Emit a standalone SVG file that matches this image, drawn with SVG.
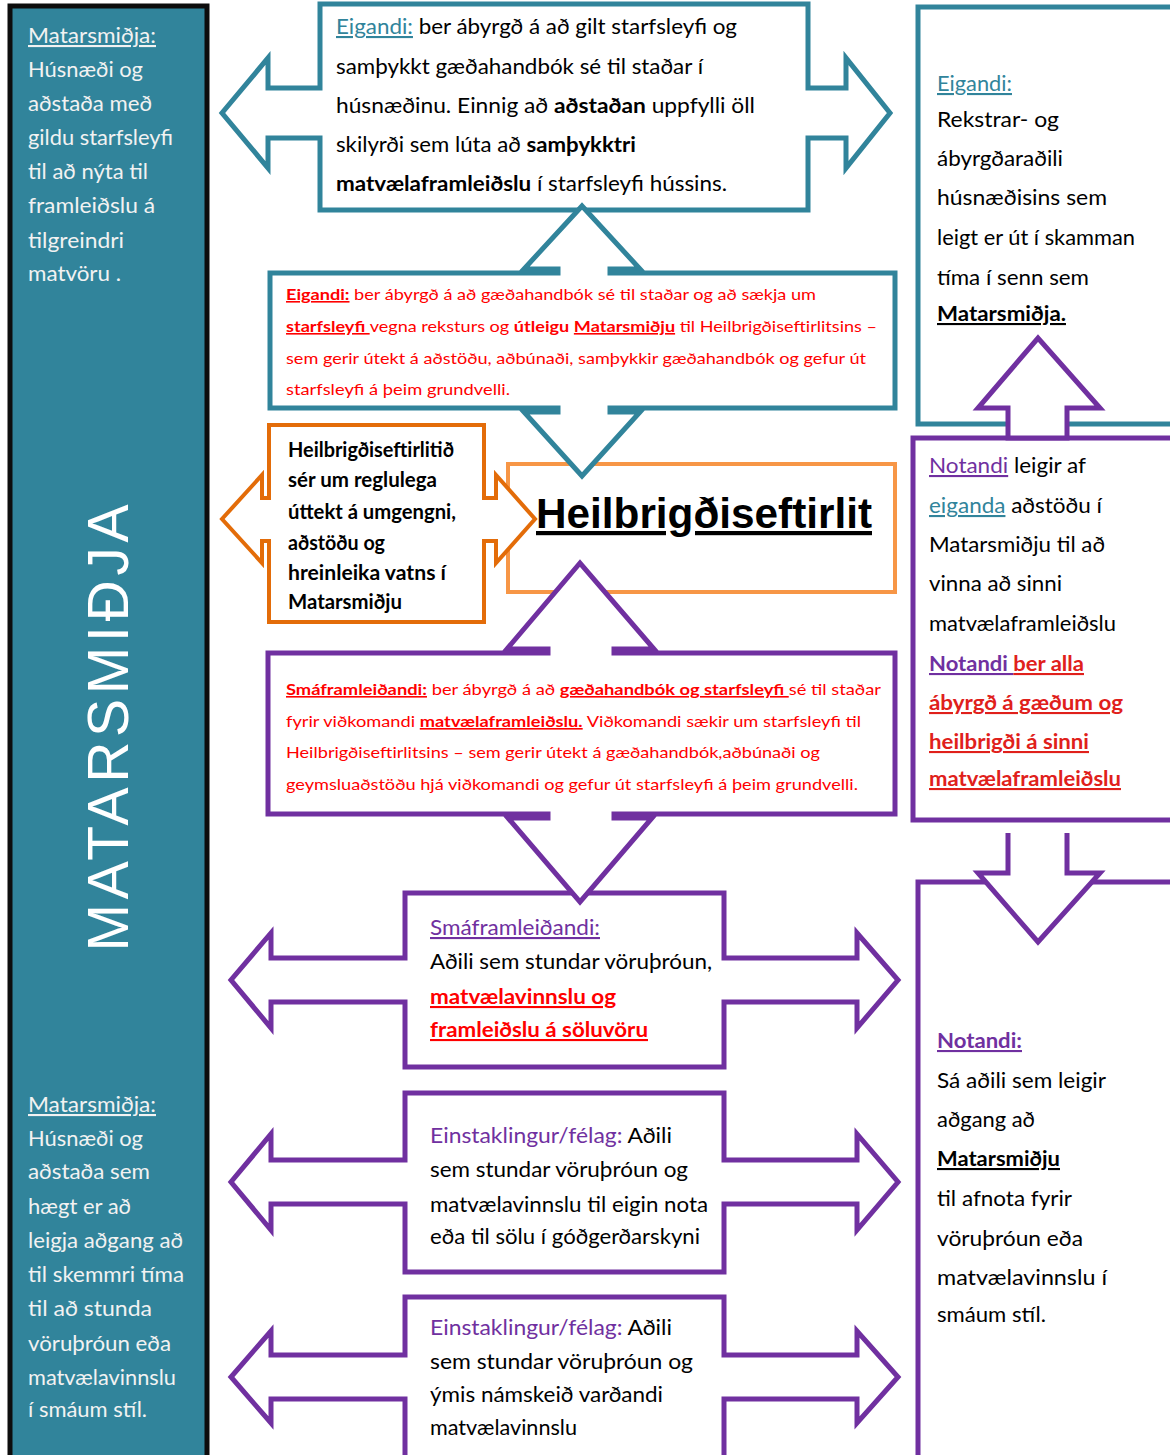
<svg xmlns="http://www.w3.org/2000/svg" width="1170" height="1455" viewBox="0 0 1170 1455">
<style>
.t{font-family:Lato,'Liberation Sans',sans-serif;font-size:21px;fill:#000}
.w{fill:#F2F2F2}
.r{font-size:16px;fill:#FF0000}
.ob{font-size:20px;font-weight:bold}
.b{font-weight:bold}
.u{text-decoration:underline}
.teal{fill:#31849B}
.pur{fill:#7030A0}
.red{fill:#FF0000}
.dred{fill:#E0201B}
.tealS{fill:#fff;stroke:#31849B;stroke-width:5}
.purS{fill:#fff;stroke:#7030A0;stroke-width:5}
.big{font-family:'Liberation Sans',Arial,sans-serif;font-size:42px;font-weight:bold;fill:#000}
.vert{font-family:'Liberation Sans',Arial,sans-serif;font-size:57px;fill:#fff}
</style>
<rect width="1170" height="1455" fill="#fff"/>

<g id="matarsmidja-panel">
<rect x="10" y="6" width="197" height="1470" fill="#31849B" stroke="#0d0d0d" stroke-width="5"/>
<g class="t w">
<text x="28" y="43" textLength="128" lengthAdjust="spacingAndGlyphs" class="u">Matarsmiðja:</text>
<text x="28" y="77" textLength="115" lengthAdjust="spacingAndGlyphs">Húsnæði og</text>
<text x="28" y="111" textLength="124" lengthAdjust="spacingAndGlyphs">aðstaða með</text>
<text x="28" y="145" textLength="145" lengthAdjust="spacingAndGlyphs">gildu starfsleyfi</text>
<text x="28" y="179" textLength="120" lengthAdjust="spacingAndGlyphs">til að nýta til</text>
<text x="28" y="213" textLength="127" lengthAdjust="spacingAndGlyphs">framleiðslu á</text>
<text x="28" y="248" textLength="96" lengthAdjust="spacingAndGlyphs">tilgreindri</text>
<text x="28" y="281" textLength="93" lengthAdjust="spacingAndGlyphs">matvöru .</text>
<text x="28" y="1112" textLength="128" lengthAdjust="spacingAndGlyphs" class="u">Matarsmiðja:</text>
<text x="28" y="1146" textLength="115" lengthAdjust="spacingAndGlyphs">Húsnæði og</text>
<text x="28" y="1179" textLength="122" lengthAdjust="spacingAndGlyphs">aðstaða sem</text>
<text x="28" y="1214" textLength="103" lengthAdjust="spacingAndGlyphs">hægt er að</text>
<text x="28" y="1248" textLength="155" lengthAdjust="spacingAndGlyphs">leigja aðgang að</text>
<text x="28" y="1282" textLength="156" lengthAdjust="spacingAndGlyphs">til skemmri tíma</text>
<text x="28" y="1316" textLength="124" lengthAdjust="spacingAndGlyphs">til að stunda</text>
<text x="28" y="1351" textLength="143" lengthAdjust="spacingAndGlyphs">vöruþróun eða</text>
<text x="28" y="1385" textLength="148" lengthAdjust="spacingAndGlyphs">matvælavinnslu</text>
<text x="28" y="1417" textLength="119" lengthAdjust="spacingAndGlyphs">í smáum stíl.</text>
</g>
<text class="vert" transform="translate(128,728) rotate(-90)" text-anchor="middle" textLength="447" lengthAdjust="spacing">MATARSMIÐJA</text>
</g>

<g id="eigandi-top">
<path class="tealS" d="M320,4 H808 V88 H846 V58 L890,113 L846,168 V138 H808 V210 H320 V138 H268 V168 L222,113 L268,58 V88 H320 Z"/>
<g class="t">
<text x="336" y="34" textLength="401" lengthAdjust="spacingAndGlyphs"><tspan class="teal u">Eigandi:</tspan>  ber ábyrgð á að gilt starfsleyfi og</text>
<text x="336" y="74" textLength="367" lengthAdjust="spacingAndGlyphs">samþykkt gæðahandbók sé til staðar í</text>
<text x="336" y="113" textLength="419" lengthAdjust="spacingAndGlyphs">húsnæðinu. Einnig að <tspan class="b">aðstaðan</tspan> uppfylli öll</text>
<text x="336" y="152" textLength="300" lengthAdjust="spacingAndGlyphs">skilyrði sem lúta að <tspan class="b">samþykktri</tspan></text>
<text x="336" y="191" textLength="391" lengthAdjust="spacingAndGlyphs"><tspan class="b">matvælaframleiðslu</tspan> í starfsleyfi hússins.</text>
</g>
</g>

<g id="eigandi-right">
<rect class="tealS" x="918" y="7" width="262" height="417"/>
<g class="t">
<text x="937" y="91" textLength="75" lengthAdjust="spacingAndGlyphs" class="teal u">Eigandi:</text>
<text x="937" y="127" textLength="122" lengthAdjust="spacingAndGlyphs">Rekstrar- og</text>
<text x="937" y="166" textLength="126" lengthAdjust="spacingAndGlyphs">ábyrgðaraðili</text>
<text x="937" y="205" textLength="170" lengthAdjust="spacingAndGlyphs">húsnæðisins sem</text>
<text x="937" y="245" textLength="198" lengthAdjust="spacingAndGlyphs">leigt er út í skamman</text>
<text x="937" y="285" textLength="152" lengthAdjust="spacingAndGlyphs">tíma í senn sem</text>
<text x="937" y="321" textLength="129" lengthAdjust="spacingAndGlyphs" class="b u">Matarsmiðja.</text>
</g>
</g>

<g id="notandi-box">
<rect class="purS" x="913" y="438" width="267" height="382"/>
<g class="t">
<text x="929" y="473" textLength="157" lengthAdjust="spacingAndGlyphs"><tspan class="pur u">Notandi</tspan> leigir af</text>
<text x="929" y="513" textLength="173" lengthAdjust="spacingAndGlyphs"><tspan class="teal u">eiganda</tspan> aðstöðu í</text>
<text x="929" y="552" textLength="176" lengthAdjust="spacingAndGlyphs">Matarsmiðju til að</text>
<text x="929" y="591" textLength="133" lengthAdjust="spacingAndGlyphs">vinna að sinni</text>
<text x="929" y="631" textLength="187" lengthAdjust="spacingAndGlyphs">matvælaframleiðslu</text>
<text x="929" y="671" textLength="155" lengthAdjust="spacingAndGlyphs" class="b"><tspan class="pur u">Notandi </tspan><tspan class="dred u">ber alla</tspan></text>
<text x="929" y="710" textLength="194" lengthAdjust="spacingAndGlyphs" class="b dred u">ábyrgð á gæðum og</text>
<text x="929" y="749" textLength="160" lengthAdjust="spacingAndGlyphs" class="b dred u">heilbrigði á sinni</text>
<text x="929" y="786" textLength="192" lengthAdjust="spacingAndGlyphs" class="b dred u">matvælaframleiðslu</text>
</g>
</g>

<g id="notandi-bottom">
<rect class="purS" x="918" y="882" width="262" height="590"/>
<g class="t">
<text x="937" y="1048" textLength="85" lengthAdjust="spacingAndGlyphs" class="b pur u">Notandi:</text>
<text x="937" y="1088" textLength="169" lengthAdjust="spacingAndGlyphs">Sá aðili sem leigir</text>
<text x="937" y="1127" textLength="98" lengthAdjust="spacingAndGlyphs">aðgang að</text>
<text x="937" y="1166" textLength="123" lengthAdjust="spacingAndGlyphs" class="b u">Matarsmiðju</text>
<text x="937" y="1206" textLength="135" lengthAdjust="spacingAndGlyphs">til afnota fyrir</text>
<text x="937" y="1246" textLength="146" lengthAdjust="spacingAndGlyphs">vöruþróun eða</text>
<text x="937" y="1285" textLength="170" lengthAdjust="spacingAndGlyphs">matvælavinnslu   í</text>
<text x="937" y="1322" textLength="109" lengthAdjust="spacingAndGlyphs">smáum stíl.</text>
</g>
</g>

<g id="connectors">
<path class="purS" d="M1008,438 V408 H978 L1038,338 L1100,408 H1067 V438 Z"/>
<path class="purS" d="M1008,833 V873 H978 L1038,942 L1100,873 H1067 V833"/>
</g>

<g id="heilbrigdiseftirlit">
<rect x="508" y="464" width="387" height="128" fill="#fff" stroke="#F79646" stroke-width="4"/>
<text class="big u" x="536" y="528" textLength="336" lengthAdjust="spacingAndGlyphs">Heilbrigðiseftirlit</text>
</g>

<g id="eftirlit-umgengni">
<path d="M269,425 H484 V498 H496 V475 L535,519 L496,563 V541 H484 V622 H269 V541 H262 V563 L222,519 L262,475 V498 H269 Z" fill="#fff" stroke="#E36C09" stroke-width="4"/>
<g class="t ob">
<text x="288" y="457" textLength="166" lengthAdjust="spacingAndGlyphs">Heilbrigðiseftirlitið</text>
<text x="288" y="487" textLength="149" lengthAdjust="spacingAndGlyphs">sér um reglulega</text>
<text x="288" y="519" textLength="168" lengthAdjust="spacingAndGlyphs">úttekt á umgengni,</text>
<text x="288" y="550" textLength="97" lengthAdjust="spacingAndGlyphs">aðstöðu og</text>
<text x="288" y="580" textLength="158" lengthAdjust="spacingAndGlyphs">hreinleika vatns  í</text>
<text x="288" y="609" textLength="114" lengthAdjust="spacingAndGlyphs">Matarsmiðju</text>
</g>
</g>

<g id="eigandi-starfsleyfi">
<path class="tealS" d="M270,273 H558 V269 H524 L582,206 L640,269 H610 V273 H895 V408 H610 V412 H640 L582,476 L524,412 H558 V408 H270 Z"/>
<g class="t r">
<text x="286" y="300" textLength="530" lengthAdjust="spacingAndGlyphs"><tspan class="b u">Eigandi:</tspan> ber ábyrgð á að gæðahandbók sé til staðar og að sækja um</text>
<text x="286" y="332" textLength="591" lengthAdjust="spacingAndGlyphs"><tspan class="b u">starfsleyfi </tspan>vegna reksturs og <tspan class="b">útleigu</tspan> <tspan class="b u">Matarsmiðju</tspan> til Heilbrigðiseftirlitsins –</text>
<text x="286" y="364" textLength="580" lengthAdjust="spacingAndGlyphs">sem gerir útekt á aðstöðu, aðbúnaði, samþykkir gæðahandbók og gefur út</text>
<text x="286" y="395" textLength="224" lengthAdjust="spacingAndGlyphs">starfsleyfi á þeim grundvelli.</text>
</g>
</g>

<g id="smaframleidandi-box">
<path class="purS" d="M405,893 H724 V958 H857 V933 L898,980 L857,1028 V1002 H724 V1067 H405 V1002 H271 V1028 L231,980 L271,933 V958 H405 Z"/>
<g class="t">
<text x="430" y="935" textLength="170" lengthAdjust="spacingAndGlyphs" class="pur u">Smáframleiðandi:</text>
<text x="430" y="969" textLength="282" lengthAdjust="spacingAndGlyphs">Aðili sem stundar vöruþróun,</text>
<text x="430" y="1004" textLength="186" lengthAdjust="spacingAndGlyphs" class="b red u">matvælavinnslu  og</text>
<text x="430" y="1037" textLength="218" lengthAdjust="spacingAndGlyphs" class="b red u">framleiðslu  á söluvöru</text>
</g>
</g>

<g id="einstaklingur-1">
<path class="purS" d="M405,1093 H724 V1160 H857 V1134 L898,1182 L857,1230 V1204 H724 V1272 H405 V1204 H271 V1230 L231,1182 L271,1134 V1160 H405 Z"/>
<g class="t">
<text x="430" y="1143" textLength="242" lengthAdjust="spacingAndGlyphs"><tspan class="pur">Einstaklingur/félag:</tspan>  Aðili</text>
<text x="430" y="1177" textLength="258" lengthAdjust="spacingAndGlyphs">sem stundar vöruþróun og</text>
<text x="430" y="1212" textLength="278" lengthAdjust="spacingAndGlyphs">matvælavinnslu til eigin nota</text>
<text x="430" y="1244" textLength="270" lengthAdjust="spacingAndGlyphs">eða til sölu í góðgerðarskyni</text>
</g>
</g>

<g id="einstaklingur-2">
<path class="purS" d="M405,1297 H724 V1355 H857 V1331 L898,1377 L857,1423 V1399 H724 V1470 H405 V1399 H271 V1423 L231,1377 L271,1331 V1355 H405 Z"/>
<g class="t">
<text x="430" y="1335" textLength="242" lengthAdjust="spacingAndGlyphs"><tspan class="pur">Einstaklingur/félag:</tspan>  Aðili</text>
<text x="430" y="1369" textLength="263" lengthAdjust="spacingAndGlyphs">sem stundar vöruþróun og</text>
<text x="430" y="1402" textLength="233" lengthAdjust="spacingAndGlyphs">ýmis námskeið varðandi</text>
<text x="430" y="1435" textLength="147" lengthAdjust="spacingAndGlyphs">matvælavinnslu</text>
</g>
</g>

<g id="smaframleidandi-starfsleyfi">
<path class="purS" d="M268,653 H548 V649 H507 L580,563 L654,649 H614 V653 H895 V814 H614 V818 H652 L580,902 L508,818 H548 V814 H268 Z"/>
<g class="t r">
<text x="286" y="695" textLength="595" lengthAdjust="spacingAndGlyphs"><tspan class="b u">Smáframleiðandi:</tspan> ber ábyrgð á að <tspan class="b u">gæðahandbók og starfsleyfi </tspan> sé til staðar</text>
<text x="286" y="727" textLength="575" lengthAdjust="spacingAndGlyphs">fyrir viðkomandi <tspan class="b u">matvælaframleiðslu.</tspan> Viðkomandi sækir um starfsleyfi til</text>
<text x="286" y="758" textLength="534" lengthAdjust="spacingAndGlyphs">Heilbrigðiseftirlitsins – sem gerir útekt á gæðahandbók,aðbúnaði og</text>
<text x="286" y="790" textLength="572" lengthAdjust="spacingAndGlyphs">geymsluaðstöðu hjá viðkomandi og gefur út starfsleyfi  á þeim grundvelli.</text>
</g>
</g>
</svg>
